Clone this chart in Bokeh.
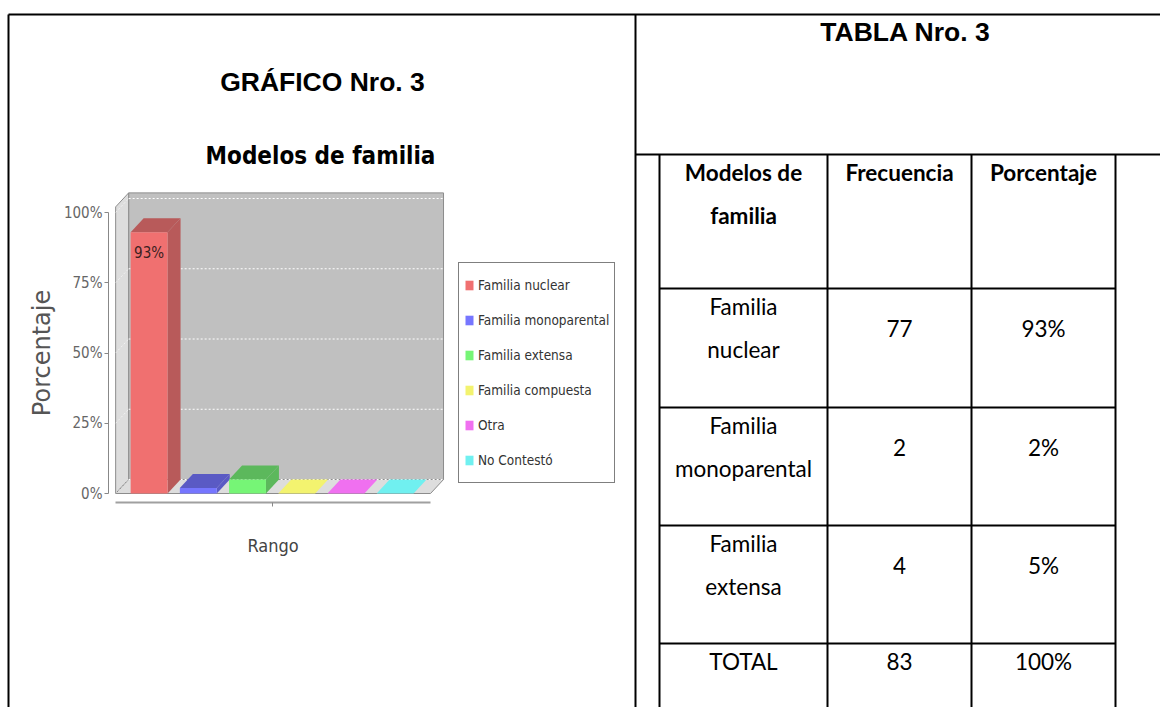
from bokeh.plotting import figure
from bokeh.models import (Range1d, LinearAxis, FixedTicker, PrintfTickFormatter,
                          CustomJSTickFormatter, Legend, LegendItem)
from bokeh.core.properties import value
from bokeh.embed import file_html
from bokeh.resources import INLINE

# ---------------- data ----------------
series = ["Familia nuclear", "Familia monoparental", "Familia extensa",
          "Familia compuesta", "Otra", "No Contestó"]
percent = [93, 2, 5, 0, 0, 0]
y_ticks = [0, 25, 50, 75, 100]
category_label = "Rango"
chart_title = "Modelos de familia"
y_label = "Porcentaje"

doc_titles = ["GRÁFICO Nro. 3", "TABLA Nro. 3"]
table_header = ["Modelos de\nfamilia", "Frecuencia", "Porcentaje"]
table_models = ["Familia\nnuclear", "Familia\nmonoparental", "Familia\nextensa", "TOTAL"]
table_freq = ["77", "2", "4", "83"]
table_pct = ["93%", "2%", "5%", "100%"]

# ---------------- styles ----------------
front_colors = ["#f07070", "#7676ff", "#76f576", "#f3f36f", "#f070f0", "#70f0f0"]
dark_colors = ["#b85a5a", "#5a5ac4", "#5cb85c", "#c4c45a", "#c45ac4", "#5ac4c4"]
COND = "DejaVu Sans Condensed"

# ---------------- canvas (reference pixel coordinates) ----------------
OFF, W, H = 0, 1160, 707
p = figure(width=W, height=H, x_range=Range1d(OFF, OFF + W), y_range=Range1d(OFF + H, OFF),
           output_backend="svg", toolbar_location=None, x_axis_type=None, y_axis_type=None,
           min_border=0, outline_line_color=None, background_fill_color="white",
           border_fill_color="white")

# chart scales placed inside the canvas
X0, SW = 124.0, 49.2      # pixel of slot 0, pixels per slot
Y0, PP = 493.0, 2.81      # pixel of 0 %, pixels per percent
p.extra_x_ranges = {"slot": Range1d((OFF - X0) / SW, (OFF + W - X0) / SW)}
p.extra_y_ranges = {"pct": Range1d((Y0 - (OFF + H)) / PP, (Y0 - OFF) / PP)}
kw = dict(x_range_name="slot", y_range_name="pct")

XL, XR = -0.18, 6.22
DX, DY = 13 / SW, 14 / PP
YMAX = 102

# walls
p.quad(left=[XL + DX], right=[XR + DX], bottom=[DY], top=[YMAX + DY],
       fill_color="#c0c0c0", line_color="#8c8c8c", line_width=1, **kw)
p.patch([XL, XL + DX, XL + DX, XL], [0, DY, YMAX + DY, YMAX],
        fill_color="#dddddd", line_color="#8c8c8c", line_width=1, **kw)
p.patch([XL, XR, XR + DX, XL + DX], [0, 0, DY, DY],
        fill_color="#dddddd", line_color="#8c8c8c", line_width=1, **kw)

# grid lines
p.segment(x0=[XL + DX] * len(y_ticks), y0=[t + DY for t in y_ticks],
          x1=[XR + DX] * len(y_ticks), y1=[t + DY for t in y_ticks],
          line_color="white", line_dash="2 2", line_width=1, **kw)
p.segment(x0=[XL] * len(y_ticks), y0=y_ticks,
          x1=[XL + DX] * len(y_ticks), y1=[t + DY for t in y_ticks],
          line_color="white", line_alpha=0.6, line_dash="2 2", line_width=1, **kw)

# 3D bars
n = len(series)
BW = 0.75
centers = [i + 0.5 for i in range(n)]
lefts = [c - BW / 2 for c in centers]
rights = [c + BW / 2 for c in centers]
side_xs = [[r, r + DX, r + DX, r] for r in rights]
side_ys = [[0, DY, v + DY, v] for v in percent]
p.patches(side_xs, side_ys, fill_color=dark_colors, line_color=None, **kw)
top_xs = [[l, r, r + DX, l + DX] for l, r in zip(lefts, rights)]
top_ys = [[v, v, v + DY, v + DY] for v in percent]
top_colors = [d if v > 0 else f for v, d, f in zip(percent, dark_colors, front_colors)]
p.patches(top_xs, top_ys, fill_color=top_colors, line_color=None, **kw)
front = p.vbar(x=centers, width=BW, top=percent, bottom=0, fill_color=front_colors,
               line_color=None, **kw)

# value label inside the tall bar
lab = [(c, v) for c, v in zip(centers, percent) if v >= 10]
p.text(x=[c for c, v in lab], y=[v - 7.5 for c, v in lab], text=[f"{v}%" for c, v in lab],
       text_font=value(COND), text_font_size=value("15px"), text_color="#3a2020",
       text_align="center", text_baseline="middle", **kw)

# axes
yax = LinearAxis(y_range_name="pct", fixed_location=108, bounds=(0, 100),
                 ticker=FixedTicker(ticks=y_ticks, minor_ticks=[]),
                 formatter=PrintfTickFormatter(format="%d%%"),
                 axis_label=y_label, axis_label_text_font="DejaVu Sans",
                 axis_label_text_font_size="24px", axis_label_text_font_style="normal",
                 axis_label_text_color="#555555", axis_label_standoff=5,
                 major_label_text_font=COND, major_label_text_font_size="15px",
                 major_label_text_color="#666666", major_label_standoff=2,
                 major_tick_out=4, major_tick_in=0, minor_tick_out=0, minor_tick_in=0,
                 major_tick_line_color="#888888", axis_line_color="#888888")
p.add_layout(yax, "left")

xax = LinearAxis(x_range_name="slot", fixed_location=502, bounds=(XL, XR),
                 ticker=FixedTicker(ticks=[sum(centers) / n], minor_ticks=[]),
                 formatter=CustomJSTickFormatter(code="return ''"),
                 major_label_text_font=COND, major_label_text_font_size="15px",
                 major_label_standoff=0,
                 axis_label=category_label, axis_label_text_font=COND,
                 axis_label_text_font_size="18px", axis_label_text_font_style="normal",
                 axis_label_text_color="#444444", axis_label_standoff=28,
                 major_tick_out=4, major_tick_in=0, minor_tick_out=0, minor_tick_in=0,
                 major_tick_line_color="#888888", axis_line_color="#a0a0a0",
                 axis_line_width=2)
p.add_layout(xax, "below")

# legend
legend = Legend(items=[LegendItem(label=s, renderers=[front], index=i)
                       for i, s in enumerate(series)],
                location=(458 - OFF, OFF + H - 483), orientation="vertical",
                border_line_color="black", border_line_width=1,
                background_fill_color="white", background_fill_alpha=1,
                label_text_font=COND, label_text_font_size="13.5px",
                label_text_color="#333333", glyph_width=10, glyph_height=12,
                label_standoff=4, label_height=34, spacing=1, padding=5, margin=0)
p.add_layout(legend)

# chart title
p.text(x=[320], y=[155], text=[chart_title], text_font=value(COND),
       text_font_size=value("24px"), text_font_style="bold", text_color="black",
       text_align="center", text_baseline="middle")

# document titles
p.text(x=[322, 905], y=[81, 31], text=doc_titles, text_font=value("Liberation Sans"),
       text_font_size=value("26.5px"), text_font_style="bold", text_color="black",
       text_align="center", text_baseline="middle")

# document frame and table lines
hx0 = [8, 635] + [659] * 4
hx1 = [1160, 1160] + [1115] * 4
hy = [14, 154, 288, 407, 525, 643]
p.segment(x0=hx0, y0=hy, x1=hx1, y1=hy, line_color="black", line_width=2)
vx = [8, 635, 659, 827, 971, 1115]
vy0 = [14, 14, 154, 154, 154, 154]
p.segment(x0=vx, y0=vy0, x1=vx, y1=[707] * len(vx), line_color="black", line_width=2)

# table text
col_cx = [743, 899, 1043]
row_tops = [288, 407, 525, 643]
FIRST, LINE = 18, 43
hx, hy2, ht = [], [], []
for j, h in enumerate(table_header):
    for k, line in enumerate(h.split("\n")):
        hx.append(col_cx[j]); hy2.append(154 + FIRST + LINE * k); ht.append(line)
p.text(x=hx, y=hy2, text=ht, text_font=value("Lato"), text_font_size=value("22.5px"),
       text_font_style="bold", text_color="black", text_align="center", text_baseline="middle")

bx, by, bt = [], [], []
for i, (m, f, pc) in enumerate(zip(table_models, table_freq, table_pct)):
    lines = m.split("\n")
    top = row_tops[i]
    for k, line in enumerate(lines):
        bx.append(col_cx[0]); by.append(top + FIRST + LINE * k); bt.append(line)
    mid = top + FIRST + LINE * (len(lines) - 1) / 2
    bx += [col_cx[1], col_cx[2]]; by += [mid, mid]; bt += [f, pc]
p.text(x=bx, y=by, text=bt, text_font=value("Lato"), text_font_size=value("22.5px"),
       text_color="black", text_align="center", text_baseline="middle")

open("out.html", "w").write(file_html(p, INLINE))
